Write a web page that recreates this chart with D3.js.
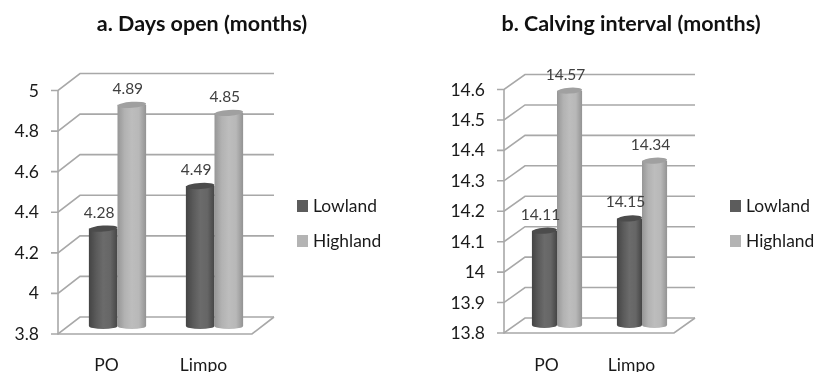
<!DOCTYPE html>
<html>
<head>
<meta charset="utf-8">
<script src="https://cdn.jsdelivr.net/npm/d3@7"></script>
<style>
    html, body { margin: 0; padding: 0; background: #fff; }
    svg { display: block; filter: blur(0.35px); }
    text { font-family: Lato, "Open Sans", sans-serif; }
</style>
</head>
<body>
<div id="chart"></div>
<script>
const categories = ['PO', 'Limpo'];
const seriesNames = ['Lowland', 'Highland'];

const daysOpenLowland = [4.28, 4.49];
const daysOpenHighland = [4.89, 4.85];
const daysOpenTicks = [3.8, 4, 4.2, 4.4, 4.6, 4.8, 5];

const calvingLowland = [14.11, 14.15];
const calvingHighland = [14.57, 14.34];
const calvingTicks = [13.8, 13.9, 14, 14.1, 14.2, 14.3, 14.4, 14.5, 14.6];

const width = 815, height = 372;
const gridColour = '#a8a8a8';

const svg = d3.select('#chart').append('svg')
    .attr('width', width)
    .attr('height', height);

// Shaded cylinder fills, one gradient per series
const defs = svg.append('defs');
const shades = [
    {id: 'cyl-0', stops: ['#444444', '#5a5a5a', '#6b6b6b', '#666666', '#454545'], top: '#4c4c4c', swatch: '#5c5c5c'},
    {id: 'cyl-1', stops: ['#969696', '#b2b2b2', '#bdbdbd', '#b8b8b8', '#939393'], top: '#a0a0a0', swatch: '#b4b4b4'}
];
shades.forEach(s => {
    const g = defs.append('linearGradient').attr('id', s.id);
    s.stops.forEach((c, i) => g.append('stop')
        .attr('offset', `${i * 25}%`)
        .attr('stop-color', c));
});

function drawPanel(cfg) {
    const g = svg.append('g');

    const y = d3.scaleLinear()
        .domain(d3.extent(cfg.ticks))
        .range([cfg.floorY, cfg.topY]);

    // Categories sit half way into the depth of the floor
    const xFront = d3.scaleBand()
        .domain(categories)
        .range([cfg.left, cfg.right])
        .paddingInner(0.41)
        .paddingOuter(0.205);
    const xSeries = d3.scaleBand()
        .domain(seriesNames)
        .range([0, xFront.bandwidth()]);

    const dx = cfg.depthX, dy = cfg.depthY;

    // Back wall grid, depth lines and tick marks
    g.append('g').selectAll('path')
        .data(cfg.ticks)
        .join('path')
        .attr('fill', 'none')
        .attr('stroke', gridColour)
        .attr('stroke-width', 1.6)
        .attr('d', d => {
            const p = d3.path();
            p.moveTo(cfg.left - 7, y(d));
            p.lineTo(cfg.left, y(d));
            p.lineTo(cfg.left + dx, y(d) - dy);
            p.lineTo(cfg.right + dx, y(d) - dy);
            return p.toString();
        });

    // Front axis and floor edges
    const edge = d3.path();
    edge.moveTo(cfg.left, y.range()[1]);
    edge.lineTo(cfg.left, y.range()[0]);
    edge.lineTo(cfg.right, y.range()[0]);
    edge.lineTo(cfg.right + dx, y.range()[0] - dy);
    g.append('path')
        .attr('d', edge.toString())
        .attr('fill', 'none')
        .attr('stroke', gridColour)
        .attr('stroke-width', 1.6);

    // y tick labels
    g.append('g').selectAll('text')
        .data(cfg.ticks)
        .join('text')
        .attr('x', cfg.left - 19)
        .attr('y', d => y(d) + 6)
        .attr('text-anchor', 'end')
        .attr('font-size', 17.5)
        .attr('fill', '#1a1a1a')
        .text(d => d);

    // Bars, drawn highland last so it overlaps the lowland cylinder
    const barLift = 8;
    const ry = 3;
    const w = xSeries.bandwidth();
    const barGroup = g.append('g');
    const labelGroup = g.append('g'); // value labels stay on top of every bar
    seriesNames.forEach((name, si) => {
        const rows = categories.map((c, i) => ({c, v: cfg.series[si][i]}));
        const xOf = d => xFront(d.c) + dx / 2 + xSeries(name);

        const bars = barGroup.append('g').selectAll('g')
            .data(rows)
            .join('g');

        bars.append('path')
            .attr('fill', `url(#cyl-${si})`)
            .attr('d', d => {
                const x0 = xOf(d), x1 = x0 + w;
                const top = y(d.v) - barLift, bottom = y(y.domain()[0]) - barLift;
                return `M${x0},${top}L${x0},${bottom}A${w / 2},${ry} 0 0 0 ${x1},${bottom}L${x1},${top}Z`;
            });
        bars.append('ellipse')
            .attr('cx', d => xOf(d) + w / 2)
            .attr('cy', d => y(d.v) - barLift)
            .attr('rx', w / 2)
            .attr('ry', ry)
            .attr('transform', d => `rotate(-4 ${xOf(d) + w / 2} ${y(d.v) - barLift})`)
            .attr('fill', shades[si].top);

        labelGroup.append('g').selectAll('text')
            .data(rows)
            .join('text')
            .attr('x', d => xOf(d) + w / 2 - 4)
            .attr('y', d => y(d.v) - barLift - 11)
            .attr('text-anchor', 'middle')
            .attr('font-size', 15.5)
            .attr('fill', '#404040')
            .text(d => d.v);
    });

    // Category labels, cut by the bottom of the picture as in the source
    g.append('g').selectAll('text')
        .data(categories)
        .join('text')
        .attr('x', d => xFront(d) + xFront.bandwidth() / 2)
        .attr('y', 371)
        .attr('text-anchor', 'middle')
        .attr('font-size', 17.5)
        .attr('fill', '#1a1a1a')
        .text(d => d);

    // Title
    g.append('text')
        .attr('x', cfg.titleX)
        .attr('y', 31)
        .attr('text-anchor', 'middle')
        .attr('font-size', 21.5)
        .attr('font-weight', 700)
        .attr('fill', '#111')
        .text(cfg.title);

    // Legend
    const legend = g.append('g').selectAll('g')
        .data(seriesNames)
        .join('g')
        .attr('transform', (d, i) => `translate(${cfg.legendX},${206 + i * 35})`);
    legend.append('rect')
        .attr('y', -6)
        .attr('width', 11)
        .attr('height', 12)
        .attr('fill', (d, i) => shades[i].swatch);
    legend.append('text')
        .attr('x', 16)
        .attr('y', 6)
        .attr('font-size', 17.4)
        .attr('fill', '#1a1a1a')
        .text(d => d);
}

drawPanel({
    title: 'a. Days open (months)', titleX: 202,
    ticks: daysOpenTicks,
    series: [daysOpenLowland, daysOpenHighland],
    left: 58, right: 252, floorY: 334, topY: 90.5,
    depthX: 22, depthY: 17,
    legendX: 297
});

drawPanel({
    title: 'b. Calving interval (months)', titleX: 631,
    ticks: calvingTicks,
    series: [calvingLowland, calvingHighland],
    left: 504, right: 674, floorY: 333, topY: 89.5,
    depthX: 21, depthY: 15,
    legendX: 730
});
</script>
</body>
</html>
